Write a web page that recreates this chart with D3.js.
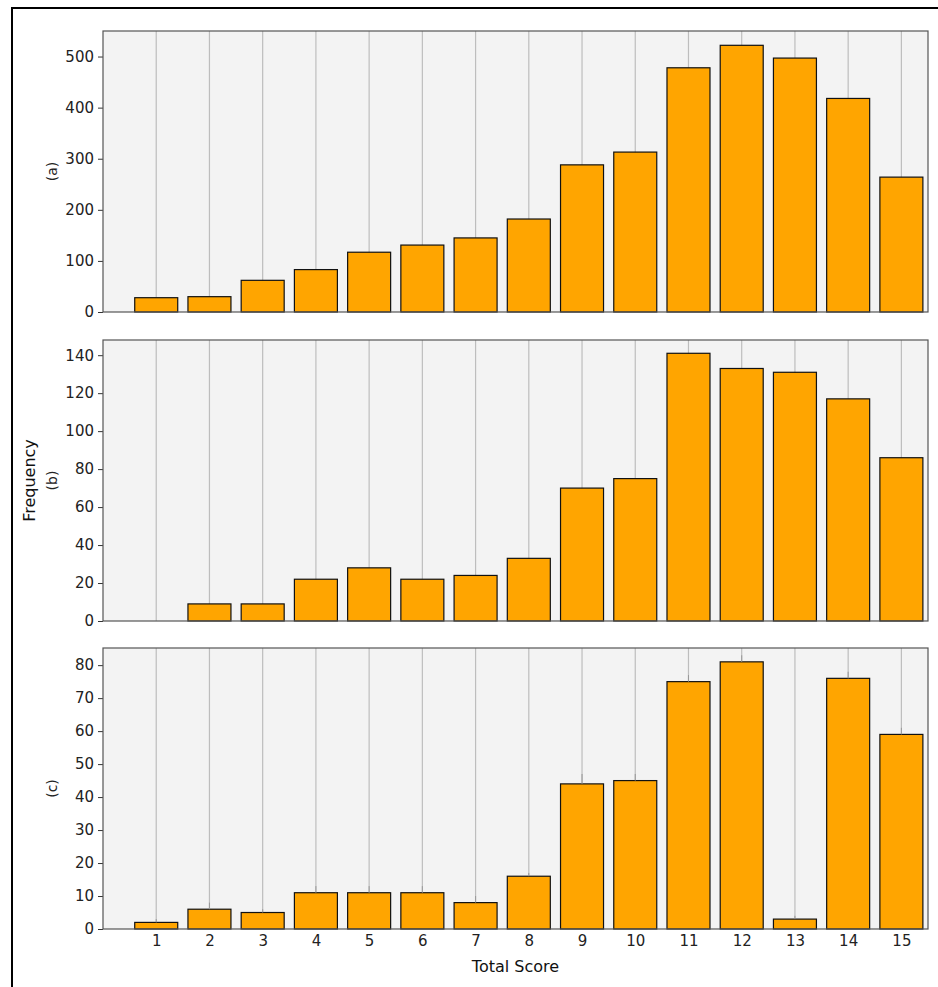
<!DOCTYPE html>
<html>
<head>
<meta charset="utf-8">
<script src="https://cdn.jsdelivr.net/npm/d3@7"></script>
<style>
	body { margin: 0; background: #fff; }
	text { font-family: "DejaVu Sans", sans-serif; }
</style>
</head>
<body>
<div id="chart"></div>
<script>
var scores = [1, 2, 3, 4, 5, 6, 7, 8, 9, 10, 11, 12, 13, 14, 15];
var freqA = [28, 30, 62, 83, 117, 131, 145, 182, 288, 313, 478, 522, 497, 418, 264];
var freqB = [0, 9, 9, 22, 28, 22, 24, 33, 70, 75, 141, 133, 131, 117, 86];
var freqC = [2, 6, 5, 11, 11, 11, 8, 16, 44, 45, 75, 81, 3, 76, 59];
var errC = [1, 2, 1, 2, 2, 2, 2, 1, 3, 2, 2, 2, 1, 2, 2];
var panelLabels = ["(a)", "(b)", "(c)"];
var yTicksA = [0, 100, 200, 300, 400, 500];
var yTicksB = [0, 20, 40, 60, 80, 100, 120, 140];
var yTicksC = [0, 10, 20, 30, 40, 50, 60, 70, 80];

var W = 938, H = 987;
var left = 103, right = 928;
var panelH = 281;
var tops = [31, 340, 648];

var svg = d3.select("#chart")
	.append("svg")
	.attr("width", W)
	.attr("height", H);

// outer frame
svg.append("rect")
	.attr("x", 12)
	.attr("y", 8)
	.attr("width", 960)
	.attr("height", 1000)
	.attr("fill", "#fff")
	.attr("stroke", "#000")
	.attr("stroke-width", 2);

var x = d3.scaleLinear().domain([0, 15.5]).range([left, right]);
var barW = 43;

function drawPanel(values, errs, ticks, ymax, top, label, showX) {
	var y = d3.scaleLinear().domain([0, ymax]).range([top + panelH, top]);
	var g = svg.append("g");

	g.append("rect")
		.attr("x", left)
		.attr("y", top)
		.attr("width", right - left)
		.attr("height", panelH)
		.attr("fill", "#f3f3f3");

	// vertical grid at each score
	g.selectAll(".grid")
		.data(scores)
		.enter()
		.append("line")
		.attr("x1", function (d) { return x(d); })
		.attr("x2", function (d) { return x(d); })
		.attr("y1", top)
		.attr("y2", top + panelH)
		.attr("stroke", "#bdbdbd")
		.attr("stroke-width", 1.2);

	g.selectAll(".bar")
		.data(values)
		.enter()
		.append("rect")
		.attr("x", function (d, i) { return x(scores[i]) - barW / 2; })
		.attr("y", function (d) { return y(d); })
		.attr("width", barW)
		.attr("height", function (d) { return y(0) - y(d); })
		.attr("fill", "#ffa500")
		.attr("stroke", "#111")
		.attr("stroke-width", 1.2);

	if (errs) {
		g.selectAll(".err")
			.data(values)
			.enter()
			.append("line")
			.attr("x1", function (d, i) { return x(scores[i]); })
			.attr("x2", function (d, i) { return x(scores[i]); })
			.attr("y1", function (d) { return y(d); })
			.attr("y2", function (d, i) { return y(d + errs[i]); })
			.attr("stroke", "#999")
			.attr("stroke-width", 1);
	}

	var yAxis = d3.axisLeft(y)
		.tickValues(ticks)
		.tickSize(5)
		.tickPadding(4);

	var ya = g.append("g")
		.attr("transform", "translate(" + left + ",0)")
		.call(yAxis);
	ya.select(".domain").remove();
	ya.selectAll("line").attr("stroke", "#333");
	ya.selectAll("text").attr("font-size", 15).attr("fill", "#222");

	if (showX) {
		var xAxis = d3.axisBottom(x)
			.tickValues(scores)
			.tickSize(0)
			.tickPadding(6);
		var xa = g.append("g")
			.attr("transform", "translate(0," + (top + panelH) + ")")
			.call(xAxis);
		xa.select(".domain").remove();
		xa.selectAll("text").attr("font-size", 15).attr("fill", "#222");
	}

	// spines
	g.append("rect")
		.attr("x", left)
		.attr("y", top)
		.attr("width", right - left)
		.attr("height", panelH)
		.attr("fill", "none")
		.attr("stroke", "#555")
		.attr("stroke-width", 1.2);

	g.append("text")
		.attr("transform", "translate(57," + (top + panelH / 2) + ") rotate(-90)")
		.attr("text-anchor", "middle")
		.attr("font-size", 14)
		.attr("fill", "#222")
		.text(label);
}

drawPanel(freqA, null, yTicksA, 550, tops[0], panelLabels[0], false);
drawPanel(freqB, null, yTicksB, 148, tops[1], panelLabels[1], false);
drawPanel(freqC, errC, yTicksC, 85.2, tops[2], panelLabels[2], true);

svg.append("text")
	.attr("transform", "translate(37," + (tops[1] + panelH / 2) + ") rotate(-90)")
	.attr("text-anchor", "middle")
	.attr("dy", "-0.1em")
	.attr("font-size", 16)
	.attr("fill", "#111")
	.text("Frequency");

svg.append("text")
	.attr("x", (left + right) / 2)
	.attr("y", 972)
	.attr("text-anchor", "middle")
	.attr("font-size", 16)
	.attr("fill", "#111")
	.text("Total Score");
</script>
</body>
</html>
